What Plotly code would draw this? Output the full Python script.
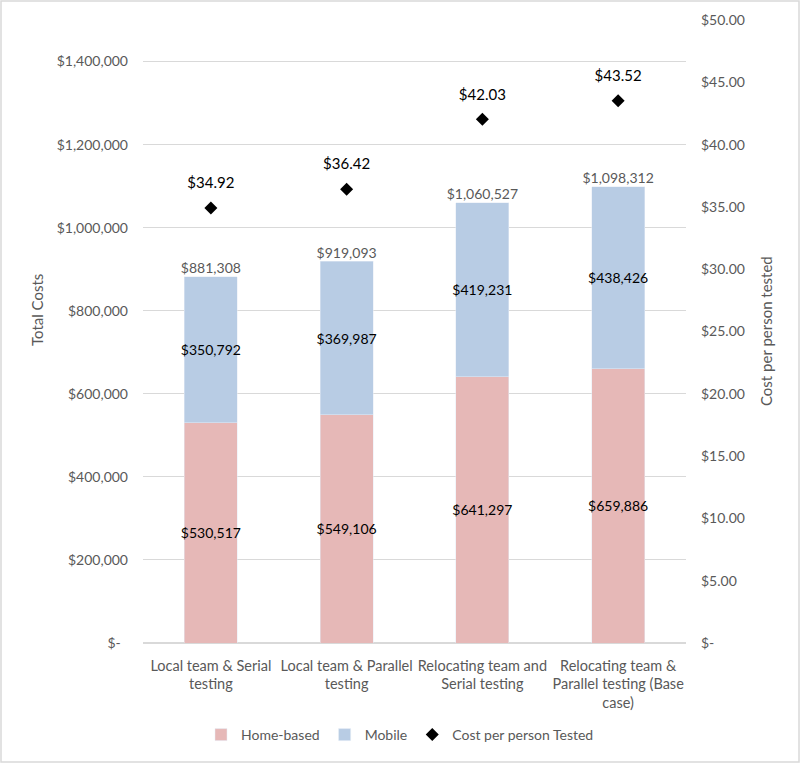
import plotly.graph_objects as go

categories = [
    "Local team & Serial<br>testing",
    "Local team & Parallel<br>testing",
    "Relocating team and<br>Serial testing",
    "Relocating team &<br>Parallel testing (Base<br>case)",
]
home_based = [530517, 549106, 641297, 659886]
mobile = [350792, 369987, 419231, 438426]
totals = [881308, 919093, 1060527, 1098312]
cost_per_person = [34.92, 36.42, 42.03, 43.52]

left_ticks = [0, 200000, 400000, 600000, 800000, 1000000, 1200000, 1400000]
left_ticktext = ["$-\u00a0\u00a0", "$200,000", "$400,000", "$600,000", "$800,000",
                 "$1,000,000", "$1,200,000", "$1,400,000"]
right_ticks = [0, 5, 10, 15, 20, 25, 30, 35, 40, 45, 50]
right_ticktext = ["$-", "$5.00", "$10.00", "$15.00", "$20.00", "$25.00", "$30.00",
                  "$35.00", "$40.00", "$45.00", "$50.00"]

FONT = "Lato, Calibri, Carlito, sans-serif"
GRAY = "#595959"
x = list(range(len(categories)))

def money(v):
    return "${:,.0f}".format(v)

fig = go.Figure()
fig.add_trace(go.Bar(
    x=x, y=home_based, name="Home-based", marker_color="#E6B8B7",
    width=0.39, text=[money(v) for v in home_based], textposition="inside",
    insidetextanchor="middle", textangle=0, constraintext="none",
    textfont=dict(color="black", size=14, family=FONT),
))
fig.add_trace(go.Bar(
    x=x, y=mobile, name="Mobile", marker_color="#B8CCE4",
    width=0.39, text=[money(v) for v in mobile], textposition="inside",
    insidetextanchor="middle", textangle=0, constraintext="none",
    textfont=dict(color="black", size=14, family=FONT),
))
fig.add_trace(go.Scatter(
    x=x, y=totals, mode="text", text=[money(v) for v in totals],
    textposition="top center", textfont=dict(color=GRAY, size=14, family=FONT),
    showlegend=False, hoverinfo="skip",
))
fig.add_trace(go.Scatter(
    x=x, y=cost_per_person, name="Cost per person Tested", yaxis="y2",
    mode="markers", marker=dict(symbol="diamond", size=10, color="black"),
))
fig.add_trace(go.Scatter(
    x=x, y=cost_per_person, yaxis="y2", mode="markers+text",
    marker=dict(size=24, color="rgba(0,0,0,0)"),
    text=["${:.2f}".format(v) for v in cost_per_person], textposition="top center",
    textfont=dict(color="black", size=15, family=FONT),
    showlegend=False, hoverinfo="skip",
))

L, R, T, B = 143, 114, 20, 120
W, H = 800, 763
pw, ph = W - L - R, H - T - B

fig.update_layout(
    width=W, height=H, barmode="stack",
    margin=dict(l=L, r=R, t=T, b=B, autoexpand=False),
    paper_bgcolor="white", plot_bgcolor="white",
    font=dict(family=FONT, color=GRAY, size=14),
    xaxis=dict(
        tickmode="array", tickvals=x, ticktext=categories, range=[-0.5, 3.5],
        showgrid=False, zeroline=False, showline=False, ticks="",
        tickfont=dict(size=14.5, color=GRAY), ticklabelstandoff=12, automargin=False,
    ),
    yaxis=dict(
        range=[0, 1500000], tickmode="array", tickvals=left_ticks, ticktext=left_ticktext,
        showgrid=True, gridcolor="#D9D9D9", gridwidth=1, zeroline=True,
        zerolinecolor="#D9D9D9", showline=False, tickfont=dict(size=14, color=GRAY),
        ticklabelstandoff=14, automargin=False,
    ),
    yaxis2=dict(
        range=[0, 50], overlaying="y", side="right", tickmode="array",
        tickvals=right_ticks, ticktext=right_ticktext, showgrid=False, zeroline=False,
        showline=False, tickfont=dict(size=14, color=GRAY), ticklabelstandoff=14,
        automargin=False,
    ),
    legend=dict(
        orientation="h", x=0.5, xanchor="center", xref="container",
        y=(H - 735) / H, yref="container",
        yanchor="middle", font=dict(size=14, color=GRAY), traceorder="normal",
        itemwidth=30,
    ),
    showlegend=True,
    annotations=[
        dict(text="Total Costs", xref="paper", yref="paper",
             x=(37 - L) / pw, y=(643 - 310) / ph, textangle=-90,
             showarrow=False, font=dict(size=15, color=GRAY), xanchor="center", yanchor="middle"),
        dict(text="Cost per person tested", xref="paper", yref="paper",
             x=(766 - L) / pw, y=(643 - 331) / ph, textangle=-90,
             showarrow=False, font=dict(size=15, color=GRAY), xanchor="center", yanchor="middle"),
    ],
    shapes=[
        dict(type="rect", xref="paper", yref="paper",
             x0=(1 - L) / pw, x1=(W - 1 - L) / pw,
             y0=(643 - (H - 1)) / ph, y1=(643 - 1) / ph,
             line=dict(color="#D9D9D9", width=1.5), fillcolor="rgba(0,0,0,0)", layer="below"),
    ],
)

fig.write_html("out.html", config={"displayModeBar": False},
               post_script="document.body.style.margin='0';")
